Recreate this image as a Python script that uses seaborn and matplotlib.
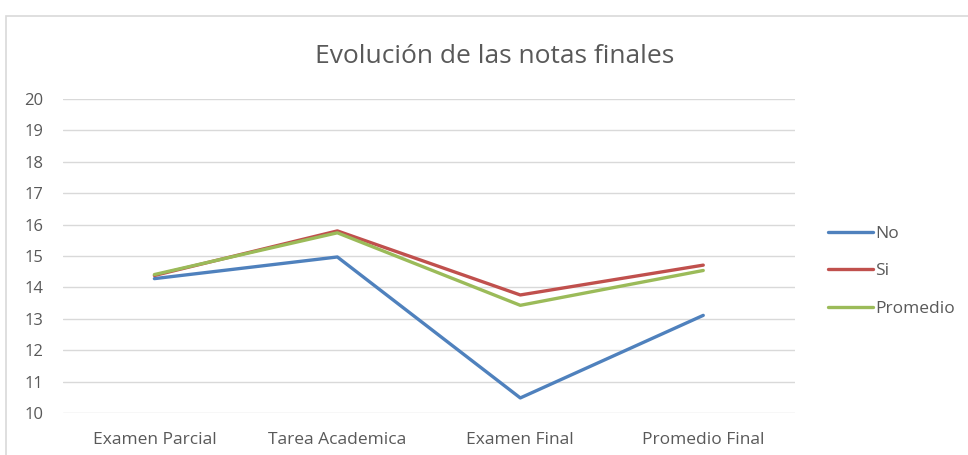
import pandas as pd
import matplotlib.pyplot as plt
import seaborn as sns
from matplotlib.patches import Rectangle

categorias = ['Examen Parcial', 'Tarea Academica', 'Examen Final', 'Promedio Final']
notas_no = [14.28, 14.97, 10.48, 13.11]
notas_si = [14.38, 15.80, 13.76, 14.71]
notas_promedio = [14.41, 15.74, 13.43, 14.54]
series = ['No', 'Si', 'Promedio']
colores = ['#4F81BD', '#C0504D', '#9BBB59']

df = pd.DataFrame({
    'categoria': categorias * 3,
    'nota': notas_no + notas_si + notas_promedio,
    'serie': [s for s in series for _ in categorias],
})

sns.set_style('white')
plt.rcParams['font.family'] = ['Open Sans', 'DejaVu Sans']
gris = '#595959'

fig = plt.figure(figsize=(9.68, 4.55), dpi=100)
ax = fig.add_axes([0.065, 0.0923, 0.756, 0.690])

sns.lineplot(data=df, x='categoria', y='nota', hue='serie', palette=colores,
             sort=False, linewidth=2.4, ax=ax)

ax.set_xlim(-0.5, 3.5)
ax.set_ylim(10, 20)
ax.set_yticks(range(10, 21))
ax.yaxis.grid(True, color='#D9D9D9', linewidth=1)
ax.set_axisbelow(True)
for s in ax.spines.values():
    s.set_visible(False)
ax.tick_params(axis='y', length=0, pad=14, labelsize=12, labelcolor=gris)
ax.tick_params(axis='x', length=0, pad=14, labelsize=12.5, labelcolor=gris)
ax.set_xlabel('')
ax.set_ylabel('')

fig.text(0.511, 0.875, 'Evolución de las notas finales', ha='center', va='center',
         fontsize=19, color=gris)

ax.legend(loc='center left', bbox_to_anchor=(1.024, 0.451), frameon=False,
          handlelength=2.6, handletextpad=0.1, labelspacing=1.25,
          fontsize=12.5, labelcolor=gris)

fig.patches.append(Rectangle((0.006, -0.1), 1.1, 1.065, transform=fig.transFigure,
                             fill=False, edgecolor='#D9D9D9', linewidth=1.2))

fig.savefig('out.png', dpi=100)
